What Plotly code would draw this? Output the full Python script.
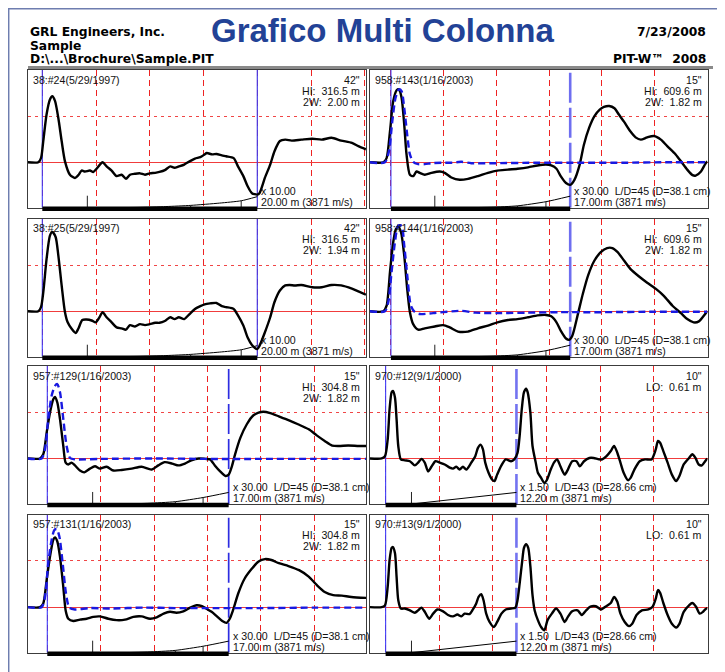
import plotly.graph_objects as go

# page body adds an 8 px margin; figure is sized to fit the visible window
OX, OY = 8, 8
W, H = 717, 664
SP = "\u00a0"

# ---------------- chart data ----------------
labels = ["38:#24(5/29/1997)", "958:#143(1/16/2003)",
          "38:#25(5/29/1997)", "958:#144(1/16/2003)",
          "957:#129(1/16/2003)", "970:#12(9/1/2000)",
          "957:#131(1/16/2003)", "970:#13(9/1/2000)"]
info_lines = [['42"', "HI:  316.5 m", "2W:  2.00 m"],
              ['15"', "HI:  609.6 m", "2W:  1.82 m"],
              ['42"', "HI:  316.5 m", "2W:  1.94 m"],
              ['15"', "HI:  609.6 m", "2W:  1.82 m"],
              ['15"', "HI:  304.8 m", "2W:  1.82 m"],
              ['10"', "LO:  0.61 m"],
              ['15"', "HI:  304.8 m", "2W:  1.82 m"],
              ['10"', "LO:  0.61 m"]]
toe_m = [20.0, 17.0, 20.0, 17.0, 17.0, 12.2, 17.0, 12.2]
amp_lines = ["x 10.00", "x 30.00  L/D=45 (D=38.1 cm)",
             "x 10.00", "x 30.00  L/D=45 (D=38.1 cm)",
             "x 30.00  L/D=45 (D=38.1 cm)", "x 1.50  L/D=43 (D=28.66 cm)",
             "x 30.00  L/D=45 (D=38.1 cm)", "x 1.50  L/D=43 (D=28.66 cm)"]
len_lines = ["20.00 m (3871 m/s)", "17.00 m (3871 m/s)",
             "20.00 m (3871 m/s)", "17.00 m (3871 m/s)",
             "17.00 m (3871 m/s)", "12.20 m (3871 m/s)",
             "17.00 m (3871 m/s)", "12.20 m (3871 m/s)"]

# velocity records (depth m, normalised velocity)
v1 = [(-1.36, 0), (-0.37, 0), (-0.12, 0.09), (0.09, 0.46), (0.40, 1.04), (0.71, 1.36), (0.93, 1.43),
      (1.18, 1.33), (1.49, 0.96), (1.80, 0.46), (2.11, 0.02), (2.57, -0.27), (3.04, -0.34), (3.35, -0.28),
      (3.66, -0.18), (3.97, -0.20), (4.43, -0.18), (4.74, -0.21), (5.05, -0.14), (5.36, -0.05), (5.61, 0.0),
      (5.98, -0.09), (6.45, -0.18), (6.91, -0.30), (7.38, -0.27), (7.78, -0.36), (8.16, -0.27), (8.62, -0.25),
      (9.09, -0.24), (9.55, -0.27), (10.0, -0.24), (10.5, -0.23), (10.9, -0.21), (11.4, -0.17), (11.9, -0.09),
      (12.3, -0.12), (12.7, -0.09), (13.2, -0.05), (13.7, 0.02), (14.2, 0.08), (14.7, 0.11), (15.1, 0.17),
      (15.3, 0.20), (15.8, 0.17), (16.2, 0.18), (16.7, 0.15), (17.1, 0.13), (17.8, 0.09), (18.2, -0.09),
      (18.7, -0.30), (19.1, -0.52), (19.5, -0.67), (20.0, -0.70), (20.2, -0.67), (20.7, -0.34), (21.2, -0.05),
      (21.6, 0.24), (22.1, 0.46), (22.6, 0.49), (23.2, 0.47), (24.1, 0.49), (25.1, 0.51), (26.0, 0.49),
      (26.9, 0.53), (27.8, 0.47), (28.8, 0.42), (29.4, 0.35), (30.1, 0.28)]
v2 = [(-1.99, 0), (-0.72, 0), (-0.41, 0.09), (-0.09, 0.67), (0.22, 1.33), (0.54, 1.56), (0.76, 1.58),
      (1.01, 1.40), (1.26, 0.82), (1.48, 0.17), (1.80, -0.27), (2.11, -0.30), (2.43, -0.20), (2.74, -0.23),
      (3.21, -0.27), (3.84, -0.23), (4.63, -0.20), (5.10, -0.23), (5.73, -0.33), (6.52, -0.38), (7.31, -0.36),
      (8.25, -0.30), (9.20, -0.23), (10.1, -0.18), (11.1, -0.16), (12.0, -0.14), (13.0, -0.11), (13.9, -0.07),
      (14.7, -0.05), (15.2, -0.07), (15.7, -0.14), (16.1, -0.30), (16.6, -0.45), (17.0, -0.49), (17.4, -0.38),
      (17.9, -0.05), (18.3, 0.38), (18.8, 0.75), (19.3, 1.0), (19.8, 1.14), (20.2, 1.20), (20.7, 1.22),
      (21.2, 1.17), (21.6, 1.04), (22.1, 0.88), (22.7, 0.67), (23.2, 0.54), (23.7, 0.49), (24.3, 0.54),
      (24.95, 0.57), (25.6, 0.49), (26.2, 0.35), (27.0, 0.17), (27.6, -0.01), (28.1, -0.16), (28.6, -0.28),
      (28.9, -0.29), (29.4, -0.20), (29.8, -0.04), (30.0, 0.02)]
f2 = [(-1.99, 0), (-0.57, 0), (-0.19, 0.24), (0.13, 0.89), (0.44, 1.40), (0.76, 1.58), (1.01, 1.54),
      (1.26, 1.18), (1.54, 0.60), (1.80, 0.17), (2.11, 0.01), (2.58, -0.04), (3.21, -0.04), (3.84, -0.02),
      (4.79, -0.01), (5.73, -0.01), (6.68, 0.01), (7.62, -0.02), (10.0, -0.02), (14.0, -0.01), (18.0, -0.01),
      (22.0, -0.01), (26.0, 0.0), (30.0, 0.0)]
v3 = [(-1.36, 0), (-0.37, 0), (-0.12, 0.09), (0.09, 0.41), (0.40, 1.14), (0.71, 1.64), (0.93, 1.72),
      (1.24, 1.61), (1.49, 1.21), (1.80, 0.56), (2.11, -0.02), (2.36, -0.24), (2.73, -0.38), (3.10, -0.47),
      (3.35, -0.38), (3.72, -0.19), (4.12, -0.18), (4.59, -0.20), (4.96, -0.24), (5.27, -0.15), (5.61, -0.02),
      (5.98, -0.13), (6.45, -0.24), (6.91, -0.35), (7.38, -0.37), (7.78, -0.40), (8.16, -0.30), (8.62, -0.33),
      (9.09, -0.28), (9.55, -0.30), (10.0, -0.28), (10.5, -0.25), (10.9, -0.25), (11.4, -0.21), (11.9, -0.13),
      (12.3, -0.17), (12.7, -0.13), (13.2, -0.17), (13.7, -0.06), (14.2, 0.05), (14.7, 0.11), (15.1, 0.15),
      (15.6, 0.17), (16.2, 0.18), (16.7, 0.11), (17.1, 0.09), (17.8, 0.05), (18.2, -0.09), (18.7, -0.31),
      (19.1, -0.57), (19.5, -0.73), (20.0, -0.82), (20.2, -0.75), (20.7, -0.46), (21.2, -0.13), (21.6, 0.20),
      (22.1, 0.45), (22.6, 0.56), (23.0, 0.57), (23.5, 0.56), (24.1, 0.57), (25.1, 0.52), (26.0, 0.52),
      (26.9, 0.57), (27.8, 0.56), (28.8, 0.49), (29.4, 0.43), (30.1, 0.36)]
v4 = [(-1.99, 0), (-0.72, 0), (-0.41, 0.12), (-0.09, 0.85), (0.22, 1.50), (0.47, 1.78), (0.69, 1.83),
      (0.95, 1.72), (1.26, 1.21), (1.54, 0.49), (1.80, -0.02), (2.11, -0.28), (2.58, -0.40), (3.21, -0.37),
      (4.16, -0.33), (4.95, -0.30), (5.58, -0.35), (6.36, -0.44), (7.31, -0.44), (8.25, -0.37), (9.20, -0.31),
      (10.1, -0.24), (11.1, -0.19), (12.0, -0.17), (13.0, -0.13), (13.9, -0.09), (14.7, -0.08), (15.2, -0.11),
      (15.7, -0.24), (16.1, -0.42), (16.6, -0.59), (16.9, -0.62), (17.2, -0.53), (17.7, -0.09), (18.2, 0.38),
      (18.7, 0.78), (19.3, 1.10), (19.9, 1.28), (20.5, 1.37), (21.0, 1.37), (21.5, 1.28), (22.1, 1.10),
      (22.7, 0.92), (23.5, 0.76), (24.3, 0.62), (25.1, 0.49), (25.9, 0.33), (26.7, 0.12), (27.5, -0.04),
      (28.1, -0.17), (28.7, -0.24), (29.2, -0.22), (29.8, -0.06), (30.0, 0.0)]
f4 = [(-1.99, 0), (-0.57, 0), (-0.25, 0.20), (0.06, 0.85), (0.38, 1.50), (0.69, 1.86), (1.01, 1.85),
      (1.26, 1.43), (1.58, 0.70), (1.89, 0.12), (2.27, -0.02), (2.74, -0.06), (4.0, -0.04), (6.68, 0.01),
      (8.0, -0.03), (10.1, -0.04), (13.0, -0.03), (16.0, -0.02), (20.0, -0.02), (25.0, -0.01), (30.0, -0.01)]
v5 = [(-1.84, 0), (-0.69, 0), (-0.38, 0.09), (-0.06, 0.56), (0.25, 0.99), (0.56, 1.28), (0.72, 1.33),
      (0.94, 1.21), (1.19, 0.85), (1.50, 0.27), (1.72, -0.09), (1.97, -0.13), (2.28, -0.09), (2.59, -0.15),
      (3.06, -0.26), (3.47, -0.30), (4.0, -0.22), (4.47, -0.17), (4.94, -0.22), (5.56, -0.18), (6.19, -0.26),
      (6.97, -0.25), (7.91, -0.22), (8.84, -0.18), (9.78, -0.24), (10.4, -0.15), (11.0, -0.08), (11.7, -0.11),
      (12.3, -0.15), (12.9, -0.11), (13.5, -0.04), (14.2, 0.0), (14.8, -0.01), (15.25, -0.02), (15.7, -0.15),
      (16.2, -0.28), (16.7, -0.38), (17.0, -0.35), (17.3, -0.17), (17.6, 0.09), (18.1, 0.45), (18.7, 0.74),
      (19.3, 0.93), (19.8, 0.99), (20.25, 1.01), (20.9, 0.98), (21.7, 0.91), (22.6, 0.83), (23.5, 0.74),
      (24.5, 0.63), (25.25, 0.50), (26.0, 0.38), (26.7, 0.28), (27.3, 0.27), (28.2, 0.28), (29.2, 0.27),
      (29.9, 0.27)]
f5 = [(-1.84, 0), (-0.53, 0), (-0.22, 0.20), (0.09, 0.85), (0.41, 1.36), (0.72, 1.57), (0.94, 1.61),
      (1.19, 1.43), (1.50, 0.85), (1.81, 0.27), (2.13, 0.01), (2.59, -0.02), (5.0, -0.01), (10.0, 0.0),
      (15.0, -0.01), (20.0, -0.01), (25.0, -0.01), (29.9, -0.01)]
v6 = [(-1.46, 0), (-0.37, 0), (-0.06, 0.05), (0.19, 0.41), (0.37, 1.07), (0.56, 1.43), (0.68, 1.46),
      (0.87, 1.32), (1.02, 0.85), (1.18, 0.27), (1.42, -0.02), (1.80, -0.04), (2.26, -0.06), (2.72, -0.15),
      (3.03, -0.09), (3.34, -0.01), (3.65, -0.09), (3.96, -0.28), (4.27, -0.18), (4.64, -0.06), (5.05, -0.09),
      (5.51, -0.13), (5.98, -0.20), (6.28, -0.22), (6.59, -0.18), (6.90, -0.24), (7.21, -0.18), (7.52, -0.24),
      (7.99, -0.09), (8.36, 0.05), (8.61, 0.23), (8.85, 0.30), (9.07, 0.20), (9.29, -0.09), (9.60, -0.31),
      (9.94, -0.46), (10.15, -0.49), (10.4, -0.35), (10.8, -0.15), (11.2, -0.02), (11.7, -0.06), (12.0, -0.02),
      (12.3, 0.12), (12.5, 0.49), (12.7, 1.07), (12.9, 1.43), (13.1, 1.51), (13.25, 1.43), (13.5, 0.99),
      (13.7, 0.27), (14.0, -0.09), (14.2, -0.31), (14.5, -0.42), (14.8, -0.53), (15.05, -0.46), (15.4, -0.24),
      (15.7, -0.09), (16.0, -0.02), (16.3, -0.17), (16.7, -0.35), (17.0, -0.24), (17.4, -0.06), (17.8, -0.06),
      (18.1, -0.17), (18.5, -0.06), (19.0, 0.01), (19.4, 0.01), (19.9, -0.02), (20.2, -0.02), (20.6, 0.05),
      (21.0, 0.16), (21.3, 0.27), (21.55, 0.16), (21.9, -0.09), (22.2, -0.31), (22.6, -0.47), (22.85, -0.42),
      (23.2, -0.24), (23.7, -0.06), (24.2, -0.02), (24.8, -0.02), (25.2, 0.20), (25.4, 0.38), (25.6, 0.34),
      (25.9, 0.16), (26.3, -0.09), (26.7, -0.35), (27.1, -0.49), (27.4, -0.38), (27.8, -0.13), (28.3, 0.01),
      (28.6, 0.09), (28.9, 0.01), (29.2, -0.13), (29.5, -0.15), (29.8, -0.06), (30.0, 0.0)]
v7 = [(-1.84, 0), (-0.69, 0), (-0.38, 0.08), (-0.06, 0.59), (0.25, 1.09), (0.56, 1.46), (0.72, 1.51),
      (0.94, 1.42), (1.19, 1.09), (1.50, 0.44), (1.72, -0.07), (1.97, -0.25), (2.44, -0.30), (3.06, -0.27),
      (3.69, -0.25), (4.31, -0.21), (4.94, -0.20), (5.72, -0.25), (6.5, -0.28), (7.28, -0.27), (8.06, -0.21),
      (8.84, -0.20), (9.63, -0.25), (10.25, -0.22), (10.9, -0.14), (11.5, -0.10), (12.1, -0.12), (12.75, -0.09),
      (13.4, -0.01), (14.0, 0.04), (14.5, 0.02), (14.9, -0.03), (15.4, -0.10), (15.9, -0.20), (16.4, -0.30),
      (16.8, -0.34), (17.1, -0.25), (17.4, -0.07), (17.9, 0.30), (18.5, 0.62), (19.2, 0.84), (19.8, 0.99),
      (20.4, 1.04), (21.0, 1.02), (21.7, 0.95), (22.6, 0.89), (23.6, 0.80), (24.5, 0.66), (25.25, 0.48),
      (26.0, 0.33), (26.8, 0.26), (27.6, 0.25), (28.5, 0.22), (29.9, 0.20)]
f7 = [(-1.84, 0), (-0.53, 0), (-0.22, 0.22), (0.09, 0.95), (0.41, 1.46), (0.66, 1.67), (0.88, 1.69),
      (1.13, 1.53), (1.44, 0.95), (1.75, 0.30), (2.06, -0.01), (2.59, -0.05), (4.0, -0.02), (6.0, -0.03),
      (9.0, -0.01), (12.0, -0.02), (16.0, -0.02), (20.0, -0.02), (25.0, -0.01), (29.9, -0.01)]
v8 = [(-1.46, 0), (-0.37, 0), (-0.06, 0.04), (0.19, 0.44), (0.37, 1.02), (0.56, 1.28), (0.68, 1.30),
      (0.87, 1.17), (1.02, 0.66), (1.18, 0.15), (1.42, -0.03), (1.80, -0.03), (2.26, -0.07), (2.72, -0.12),
      (3.03, -0.07), (3.34, -0.01), (3.65, -0.10), (4.06, -0.25), (4.43, -0.14), (4.83, -0.05), (5.36, -0.09),
      (5.82, -0.17), (6.28, -0.20), (6.69, -0.16), (7.06, -0.20), (7.37, -0.14), (7.83, -0.15), (8.14, -0.05),
      (8.45, 0.08), (8.67, 0.22), (8.92, 0.28), (9.13, 0.15), (9.38, -0.14), (9.69, -0.32), (10.1, -0.43),
      (10.4, -0.32), (10.8, -0.14), (11.2, -0.05), (11.7, -0.03), (12.1, -0.01), (12.3, 0.15), (12.5, 0.51),
      (12.75, 1.02), (12.9, 1.28), (13.1, 1.36), (13.3, 1.28), (13.5, 0.88), (13.7, 0.26), (13.9, -0.07),
      (14.2, -0.28), (14.5, -0.43), (14.8, -0.50), (15.1, -0.28), (15.5, -0.14), (15.9, -0.03), (16.3, -0.14),
      (16.7, -0.32), (17.0, -0.21), (17.4, -0.09), (17.9, -0.07), (18.3, -0.17), (18.7, -0.07), (19.1, 0.01),
      (19.6, 0.02), (20.1, -0.05), (20.5, 0.01), (21.0, 0.09), (21.3, 0.22), (21.6, 0.12), (21.9, -0.14),
      (22.3, -0.32), (22.7, -0.41), (23.0, -0.36), (23.4, -0.17), (23.9, -0.07), (24.5, -0.05), (24.9, 0.01),
      (25.2, 0.19), (25.4, 0.37), (25.6, 0.31), (25.9, 0.09), (26.3, -0.17), (26.7, -0.36), (27.1, -0.44),
      (27.4, -0.36), (27.8, -0.10), (28.3, 0.04), (28.6, 0.09), (28.95, 0.01), (29.3, -0.14), (29.6, -0.10),
      (29.8, -0.05), (30.0, -0.02)]

velocity = [v1, v2, v3, v4, v5, v6, v7, v8]
reference = [None, f2, None, f4, f5, None, f7, None]

# amplification curves (depth m, height above the base line) and depth marks
ampA = [(6.4, 0.0), (8.9, 0.007), (11.5, 0.025), (13.8, 0.05), (16.5, 0.10), (18.5, 0.15), (20.0, 0.24)]
ampB = [(7.0, 0.0), (9.5, 0.01), (12.0, 0.04), (14.7, 0.13), (17.0, 0.25)]
ampC = [(7.0, 0.0), (9.4, 0.015), (12.0, 0.05), (14.6, 0.14), (17.0, 0.25)]
ampD = [(2.41, 0.0), (12.2, 0.25)]
marksA = [(4.19, 0.26), (8.93, 0.007), (13.8, 0.05), (18.5, 0.15)]
marksB = [(4.16, 0.26), (9.5, 0.01), (12.0, 0.04), (14.7, 0.13)]
marksC = [(4.25, 0.26), (9.4, 0.015), (12.0, 0.05), (14.6, 0.14)]
marksD = [(2.41, 0.26)]
amplification = [ampA, ampB, ampA, ampB, ampC, ampD, ampC, ampD]
marks = [marksA, marksB, marksA, marksB, marksC, marksD, marksC, marksD]

# ---------------- layout / style (screen pixel positions) ----------------
col_px = [(27.7, 366.0), (370.0, 707.5)]
row_px = [(70.0, 207.7), (219.0, 356.7), (366.0, 504.0), (514.7, 652.7)]
x_ranges = [(-1.358, 30.11), (-1.985, 30.02), (-1.358, 30.11), (-1.985, 30.02),
            (-1.837, 29.87), (-1.458, 30.02), (-1.837, 29.87), (-1.458, 30.02)]
Y_RANGE = (-0.985, 2.0)
toe_style = [("rgb(70,60,230)", 1.2, "solid"), ("rgb(110,110,240)", 2.6, "30px,5px"),
             ("rgb(70,60,230)", 1.2, "solid"), ("rgb(110,110,240)", 2.6, "30px,5px"),
             ("rgb(45,45,225)", 1.7, "30px,5px"), ("rgb(115,115,240)", 2.6, "30px,5px"),
             ("rgb(45,45,225)", 1.7, "30px,5px"), ("rgb(115,115,240)", 2.6, "30px,5px")]


def fx(px):
    return (px - OX) / W


def fy(py):
    return 1 - (py - OY) / H


RED = "rgb(238,35,35)"
BLUE_REF = "rgb(25,25,225)"
FONT = "Liberation Sans, Arial, sans-serif"

fig = go.Figure()
layout_axes = {}
annotations = []
shapes = []

for i in range(8):
    n = i + 1
    sfx = "" if n == 1 else str(n)
    xa, ya = "x" + sfx, "y" + sfx
    r, c = divmod(i, 2)
    x0p, x1p = col_px[c]
    t, b = row_px[r]
    toe = toe_m[i]

    layout_axes["xaxis" + sfx] = dict(
        domain=[fx(x0p), fx(x1p)], range=list(x_ranges[i]), anchor=ya,
        showgrid=True, gridcolor=RED, griddash="6px,4px", gridwidth=1.4,
        tick0=0, dtick=5, showticklabels=False, ticks="", zeroline=False,
        showline=True, mirror=True, linecolor="#3c3c3c", linewidth=1, fixedrange=True)
    layout_axes["yaxis" + sfx] = dict(
        domain=[fy(b), fy(t)], range=list(Y_RANGE), anchor=xa,
        tickvals=[1], showgrid=True, gridcolor="rgba(238,50,50,0.9)", griddash="3px,4px", gridwidth=1,
        zeroline=True, zerolinecolor="rgb(240,60,60)", zerolinewidth=1.3,
        showticklabels=False, ticks="", showline=True, mirror=True,
        linecolor="#3c3c3c", linewidth=1, fixedrange=True)

    # start line (impact) and toe line
    fig.add_trace(go.Scatter(x=[0, 0], y=list(Y_RANGE), xaxis=xa, yaxis=ya, mode="lines",
                             line=dict(color="rgb(60,60,250)", width=1.1), hoverinfo="skip", showlegend=False))
    tc, tw, td = toe_style[i]
    fig.add_trace(go.Scatter(x=[toe, toe], y=list(Y_RANGE), xaxis=xa, yaxis=ya, mode="lines",
                             line=dict(color=tc, width=tw, dash=td),
                             hoverinfo="skip", showlegend=False))

    # amplification curve and depth marks
    amp = amplification[i]
    fig.add_trace(go.Scatter(x=[p[0] for p in amp], y=[Y_RANGE[0] + p[1] for p in amp],
                             xaxis=xa, yaxis=ya, mode="lines",
                             line=dict(color="black", width=1, shape="spline", smoothing=0.6),
                             hoverinfo="skip", showlegend=False))
    mx, my = [], []
    for d, h in marks[i]:
        mx += [d, d, None]
        my += [Y_RANGE[0], Y_RANGE[0] + h, None]
    fig.add_trace(go.Scatter(x=mx, y=my, xaxis=xa, yaxis=ya, mode="lines",
                             line=dict(color="#222", width=1), hoverinfo="skip", showlegend=False))

    # velocity record
    vel = velocity[i]
    fig.add_trace(go.Scatter(x=[p[0] for p in vel], y=[p[1] for p in vel], xaxis=xa, yaxis=ya,
                             mode="lines", line=dict(color="black", width=2.4, shape="spline", smoothing=0.7),
                             hoverinfo="skip", showlegend=False))
    ref = reference[i]
    if ref is not None:
        fig.add_trace(go.Scatter(x=[p[0] for p in ref], y=[p[1] for p in ref], xaxis=xa, yaxis=ya,
                                 mode="lines",
                                 line=dict(color=BLUE_REF, width=2.4, dash="7px,4px", shape="spline",
                                           smoothing=0.7),
                                 hoverinfo="skip", showlegend=False))

    # pile length bar
    shapes.append(dict(type="line", xref=xa, yref=ya + " domain", x0=0, x1=toe, y0=-0.008, y1=-0.008,
                       line=dict(color="black", width=4.5), layer="above"))

    # texts
    tf = dict(family=FONT, size=10.6, color="#111")
    annotations.append(dict(text=labels[i], xref=xa + " domain", yref=ya + " domain", x=0, y=1,
                            xshift=3, yshift=-9.5, xanchor="left", yanchor="middle", showarrow=False, font=tf))
    for k, line in enumerate(info_lines[i]):
        annotations.append(dict(text=line.replace("  ", SP + SP), xref=xa + " domain", yref=ya + " domain",
                                x=1, y=1, xshift=-4, yshift=-9.5 - 11 * k, xanchor="right", yanchor="middle",
                                showarrow=False, font=tf))
    annotations.append(dict(text=amp_lines[i].replace("  ", SP + SP), xref=xa, yref=ya + " domain", x=toe, y=0,
                            xshift=2, yshift=17, xanchor="left", yanchor="middle", showarrow=False, font=tf))
    annotations.append(dict(text=len_lines[i], xref=xa, yref=ya + " domain", x=toe, y=0,
                            xshift=2, yshift=6, xanchor="left", yanchor="middle", showarrow=False, font=tf))

# header
hf = dict(family="DejaVu Sans, sans-serif", size=12.3, color="black")
hdr = [("GRL Engineers, Inc.", 28, 32, "left"), ("Sample", 28, 45.5, "left"),
       ("D:\\...\\Brochure\\Sample.PIT", 28, 59.5, "left"),
       ("7/23/2008", 708, 32, "right"), ("PIT-W™" + SP + SP + "2008", 708, 59.5, "right")]
for txt, px, py, anc in hdr:
    annotations.append(dict(text="<b>" + txt + "</b>", xref="paper", yref="paper", x=fx(px), y=fy(py),
                            xanchor=anc, yanchor="middle", showarrow=False, font=hf))
annotations.append(dict(text="<b>Grafico Multi Colonna</b>", xref="paper", yref="paper",
                        x=fx(382), y=fy(31), xanchor="center", yanchor="middle", showarrow=False,
                        font=dict(family=FONT, size=33, color="rgb(34,66,150)")))

shapes += [
    dict(type="line", xref="paper", yref="paper", x0=fx(28), x1=fx(713), y0=fy(67.5), y1=fy(67.5),
         line=dict(color="#8a8a8a", width=3)),
    dict(type="line", xref="paper", yref="paper", x0=0, x1=1, y0=fy(8.7), y1=fy(8.7),
         line=dict(color="rgb(110,125,175)", width=1.5)),
    dict(type="line", xref="paper", yref="paper", x0=fx(8.7), x1=fx(8.7), y0=0, y1=fy(8.7),
         line=dict(color="rgb(110,125,175)", width=1.5)),
]

fig.update_layout(width=W, height=H, autosize=False, margin=dict(l=0, r=0, t=0, b=0),
                  paper_bgcolor="white", plot_bgcolor="white", showlegend=False,
                  annotations=annotations, shapes=shapes, **layout_axes)

fig.write_html("out.html")
